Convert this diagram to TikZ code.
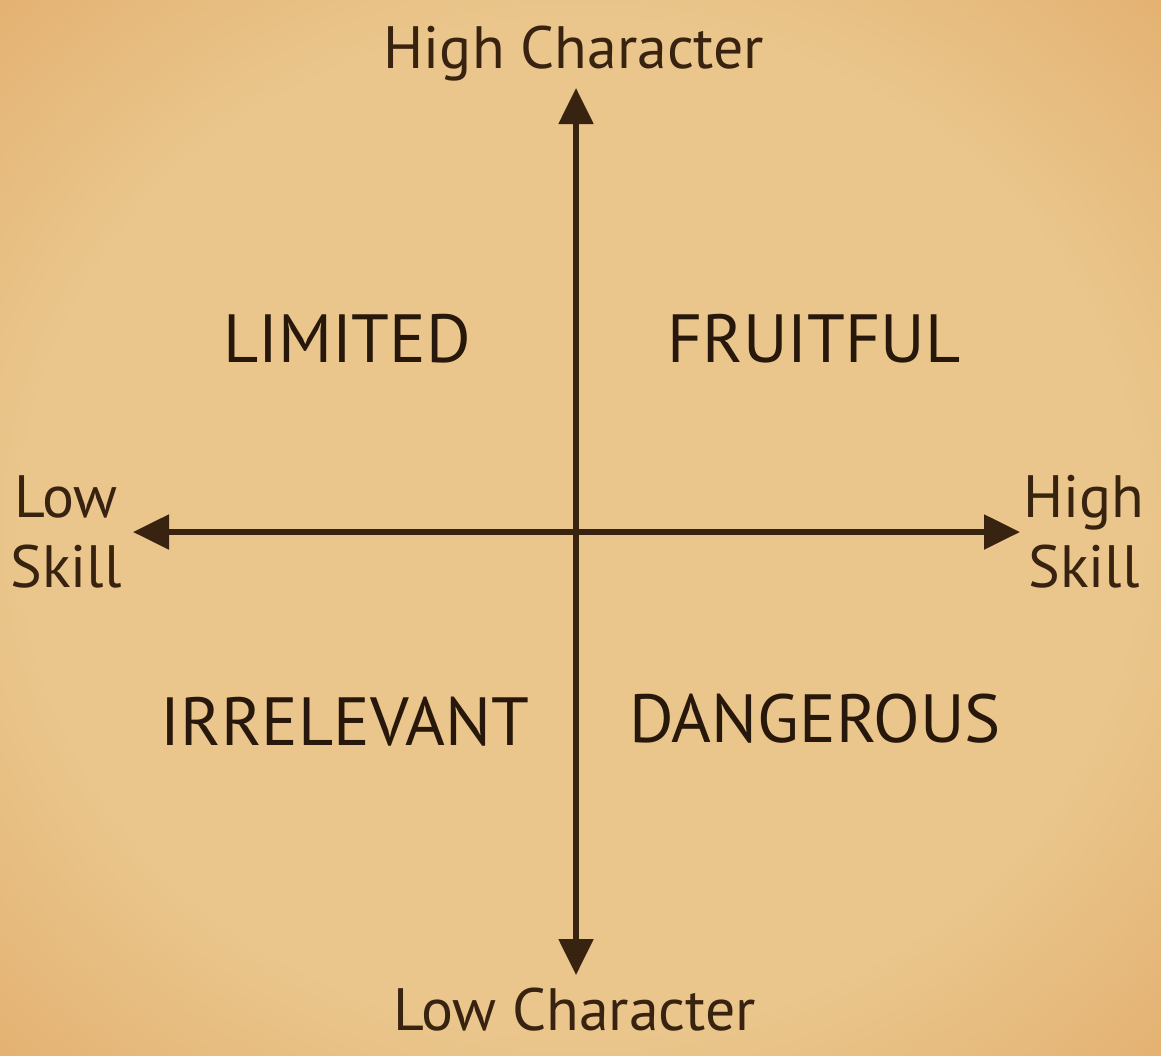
\documentclass[tikz,border=0pt]{standalone}
\usepackage{fontspec}
\setmainfont{PT Sans}
\usetikzlibrary{arrows.meta,positioning}
\definecolor{ink}{RGB}{56,34,16}
\definecolor{paperlight}{RGB}{234,198,140}
\definecolor{papermid}{RGB}{224,166,100}
\definecolor{paperdark}{RGB}{210,128,60}
\definecolor{paperedge}{RGB}{194,104,42}
\pgfdeclareradialshading{paper}{\pgfpoint{0bp}{0bp}}{%
  color(0bp)=(paperlight); color(24bp)=(paperlight);
  color(42bp)=(papermid); color(56bp)=(paperdark); color(72bp)=(paperedge)}

\begin{document}
\begin{tikzpicture}[
  >={Triangle[length=0.36cm,width=0.34cm]},
  axis/.style={<->, line width=1.5pt, draw=ink},
  axlabel/.style={font=\fontsize{17}{20}\selectfont, text=ink, align=center},
  quad/.style={font=\fontsize{19.4}{23}\selectfont, text=ink!70!black},
]

% Parchment
\shade[shading=paper] (0,0) rectangle (11.61,10.55);
\useasboundingbox (0,0) rectangle (11.61,10.55);

% Axis ends
\coordinate (top) at (5.76,9.67);
\coordinate (bottom) at (5.76,0.80);
\coordinate (left) at (1.33,5.23);
\coordinate (right) at (10.20,5.23);

% Axes
\draw[axis] (bottom) -- (top);
\draw[axis] (left) -- (right);

% Axis labels
\node[axlabel, anchor=base] (hichar) at (5.74,9.87) {High Character};
\node[axlabel, anchor=base] (lochar) at (5.75,0.25) {Low Character};
\node[axlabel] (loskill) at (0.66,5.23) {Low\\Skill};
\node[axlabel] (hiskill) at (10.84,5.23) {High\\Skill};

% Quadrants
\node[quad, anchor=base] (limited) at (3.47,6.93) {LIMITED};
\node[quad, anchor=base] (fruitful) at (8.14,6.93) {FRUITFUL};
\node[quad, anchor=base] (irrelevant) at (3.45,3.10) {IRRELEVANT};
\node[quad, anchor=base] (dangerous) at (8.15,3.13) {DANGEROUS};

\end{tikzpicture}
\end{document}
